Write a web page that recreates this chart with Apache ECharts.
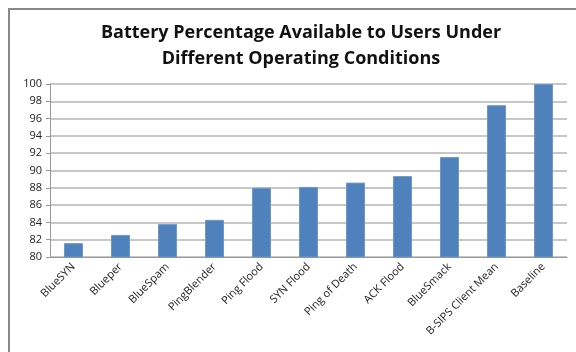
<!DOCTYPE html>
<html>
<head>
    <meta charset="utf-8">
    <title>Battery Percentage</title>
    <script src="https://cdn.jsdelivr.net/npm/echarts@6/dist/echarts.min.js"></script>
    <style>
        body { margin: 0; background: #fff; }
        #frame { position: absolute; left: 8px; top: 8px; width: 568px; height: 344px;
                 border-left: 2px solid #888; border-top: 2px solid #888; }
        #main { position: absolute; left: 0; top: 0; width: 576px; height: 352px; }
    </style>
</head>
<body>
    <div id="frame"></div>
    <div id="main"></div>
    <script type="text/javascript">
    // categories and values
    var conditions = ['BlueSYN', 'Blueper', 'BlueSpam', 'PingBlender', 'Ping Flood', 'SYN Flood',
        'Ping of Death', 'ACK Flood', 'BlueSmack', 'B-SIPS Client Mean', 'Baseline'];
    var batteryPct = [81.6, 82.55, 83.8, 84.3, 88.0, 88.1, 88.6, 89.35, 91.55, 97.55, 100];

    var myChart = echarts.init(document.getElementById('main'));

    var option = {
        animation: false,
        title: {
            text: 'Battery Percentage Available to Users Under\nDifferent Operating Conditions',
            left: 296,
            textAlign: 'center',
            top: 15,
            textStyle: {
                fontFamily: 'Open Sans',
                fontWeight: 'bold',
                fontSize: 18,
                lineHeight: 26,
                color: '#111'
            }
        },
        grid: { left: 50, right: 9, top: 84, bottom: 95 },
        xAxis: {
            type: 'category',
            data: conditions,
            axisLine: { lineStyle: { color: '#999' } },
            axisTick: { length: 4, lineStyle: { color: '#999' } },
            axisLabel: {
                rotate: 45,
                interval: 0,
                fontSize: 11,
                fontFamily: 'Open Sans',
                color: '#222',
                margin: 8
            }
        },
        yAxis: {
            type: 'value',
            min: 80,
            max: 100,
            interval: 2,
            axisLine: { show: true, lineStyle: { color: '#999' } },
            axisTick: { show: true, length: 4, lineStyle: { color: '#999' } },
            splitLine: { lineStyle: { color: '#b5b5b5', width: 1.5 } },
            axisLabel: {
                fontSize: 11,
                fontFamily: 'Open Sans',
                color: '#222',
                margin: 8
            }
        },
        series: [{
            type: 'bar',
            data: batteryPct,
            barWidth: 19,
            itemStyle: { color: '#4F81BD', borderColor: '#6f98c9', borderWidth: 1 }
        }]
    };

    myChart.setOption(option);
    </script>
</body>
</html>
